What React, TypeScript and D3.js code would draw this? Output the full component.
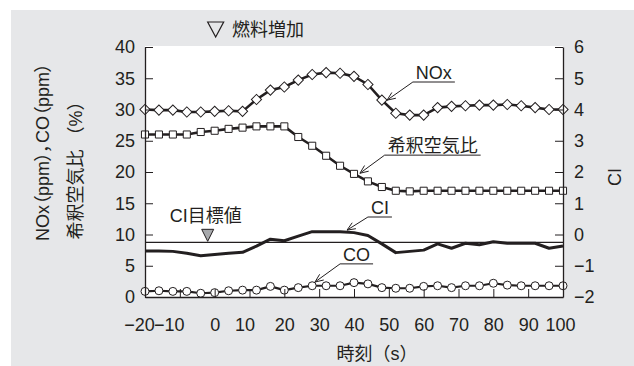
import React, { useEffect, useRef } from 'react';
import * as d3 from 'd3';

const times = [-20, -16, -12, -8, -4, 0, 4, 8, 12, 16, 20, 24, 28, 32, 36, 40, 44, 48, 52, 56, 60, 64, 68, 72, 76, 80, 84, 88, 92, 96, 100];
const noxPpm = [30.0, 29.9, 29.9, 29.6, 29.6, 29.7, 29.8, 29.7, 31.6, 33.1, 33.6, 34.7, 35.6, 35.9, 35.8, 35.3, 34.0, 31.5, 29.4, 29.1, 29.1, 30.3, 30.5, 30.6, 30.7, 30.7, 30.8, 30.6, 30.3, 30.0, 30.0];
const dilutionPct = [26.0, 26.0, 26.0, 26.0, 26.4, 26.6, 26.9, 27.1, 27.3, 27.3, 27.3, 25.6, 24.2, 22.6, 21.0, 19.7, 18.5, 17.6, 17.0, 16.9, 17.0, 17.0, 17.0, 17.0, 17.0, 17.0, 17.0, 17.0, 17.0, 17.0, 17.0];
const coPpm = [0.9, 1.0, 0.9, 0.9, 0.6, 0.7, 1.0, 1.1, 1.1, 1.7, 1.1, 1.5, 1.8, 1.8, 1.8, 2.3, 2.1, 1.5, 1.4, 1.4, 1.7, 1.8, 1.5, 1.8, 1.8, 2.2, 1.9, 1.8, 1.8, 1.8, 1.8];
const ciIndex = [-0.53, -0.53, -0.54, -0.6, -0.68, -0.64, -0.6, -0.57, -0.37, -0.15, -0.2, -0.05, 0.09, 0.09, 0.09, 0.06, -0.03, -0.3, -0.58, -0.54, -0.5, -0.3, -0.44, -0.28, -0.33, -0.23, -0.28, -0.28, -0.28, -0.44, -0.37];
const ciTarget = -0.25;
const fuelIncreaseTime = 0;
const ciTargetMarkTime = -2;

const xTicks = [-20, -10, 0, 10, 20, 30, 40, 50, 60, 70, 80, 90, 100];
const leftTicks = [0, 5, 10, 15, 20, 25, 30, 35, 40];
const rightTicks = [-2, -1, 0, 1, 2, 3, 4, 5, 6];

// callouts: arrow tip and underline start, in data units (left axis)
const callouts = [
  { label: 'NOx', tip: [49.5, 31.5], at: [56.9, 34.4] },
  { label: '希釈空気比', tip: [41.7, 19.8], at: [48.8, 22.7] },
  { label: 'CI', tip: [38.0, 10.7], at: [44.0, 12.8] },
  { label: 'CO', tip: [28.8, 2.4], at: [36.0, 5.3] },
];

const FONT = '"Liberation Sans", "Noto Sans CJK JP", sans-serif';
const INK = '#231f20';
const W = 634;
const H = 366;

const App: React.FC = () => {
  const svgRef = useRef<SVGSVGElement>(null);

  useEffect(() => {
    if (!svgRef.current) return;
    const svg = d3.select(svgRef.current);
    svg.selectAll('*').remove();

    const margin = { left: 145, right: 71, top: 47, bottom: 69 };
    const x = d3.scaleLinear().domain([-20, 100]).range([margin.left, W - margin.right]);
    const y = d3.scaleLinear().domain([0, 40]).range([H - margin.bottom, margin.top]);
    const yR = d3.scaleLinear().domain([-2, 6]).range([H - margin.bottom, margin.top]);

    svg.append('rect').attr('x', 11).attr('y', 10).attr('width', W - 11).attr('height', H - 10).attr('fill', '#e6e7e9');
    svg.append('rect')
      .attr('x', x(-20)).attr('y', margin.top - 1)
      .attr('width', x(100) - x(-20)).attr('height', y(0) - margin.top + 1)
      .attr('fill', '#fff');

    // CI target line
    svg.append('line')
      .attr('x1', x(-20)).attr('x2', x(100))
      .attr('y1', yR(ciTarget)).attr('y2', yR(ciTarget))
      .attr('stroke', INK).attr('stroke-width', 1.2);

    const tx = (i: number) => x(times[i]);

    // lines
    const addSeries = (vals: number[], scale: d3.ScaleLinear<number, number>, width: number) => {
      svg.append('path')
        .datum(vals)
        .attr('fill', 'none')
        .attr('stroke', INK)
        .attr('stroke-width', width)
        .attr('stroke-linejoin', 'round')
        .attr('d', d3.line<number>().x((_, i) => tx(i)).y(d => scale(d)));
    };
    addSeries(dilutionPct, y, 2.6);
    addSeries(noxPpm, y, 2.6);
    addSeries(coPpm, y, 2.2);
    addSeries(ciIndex, yR, 3);

    const sq = d3.symbol().type(d3.symbolSquare);
    svg.append('g').selectAll('path').data(noxPpm).join('path')
      .attr('d', sq.size(52)())
      .attr('transform', (d, i) => `translate(${tx(i)},${y(d)}) rotate(45)`)
      .attr('fill', '#fff').attr('stroke', INK).attr('stroke-width', 1);
    svg.append('g').selectAll('path').data(dilutionPct).join('path')
      .attr('d', sq.size(50)())
      .attr('transform', (d, i) => `translate(${tx(i)},${y(d)})`)
      .attr('fill', '#fff').attr('stroke', INK).attr('stroke-width', 1);
    svg.append('g').selectAll('circle').data(coPpm).join('circle')
      .attr('cx', (_, i) => tx(i)).attr('cy', d => y(d)).attr('r', 4)
      .attr('fill', '#fff').attr('stroke', INK).attr('stroke-width', 1);

    // axes
    const styleAxis = (g: d3.Selection<SVGGElement, unknown, null, undefined>) => {
      g.select('.domain').attr('stroke', INK).attr('stroke-width', 1.3);
      g.selectAll('.tick line').attr('stroke', INK).attr('stroke-width', 1);
      g.selectAll('.tick text').attr('fill', INK).style('font-size', '18px').style('font-family', FONT);
    };
    const fmt = (d: d3.NumberValue) => (+d < 0 ? '\u2212' + Math.abs(+d) : String(d));

    const gx = svg.append('g').attr('transform', `translate(0,${y(0)})`)
      .call(d3.axisBottom(x).tickValues(xTicks).tickSizeInner(-8).tickSizeOuter(0).tickPadding(21).tickFormat(fmt));
    styleAxis(gx);
    const xShift: Record<number, number> = { [-20]: -6, [-10]: -11, [10]: -5, [100]: -3 };
    gx.selectAll<SVGTextElement, number>('.tick text').attr('dx', d => xShift[d] || 0);

    const gl = svg.append('g').attr('transform', `translate(${x(-20)},0)`)
      .call(d3.axisLeft(y).tickValues(leftTicks).tickSizeInner(-8).tickSizeOuter(0).tickPadding(10));
    styleAxis(gl);

    const gr = svg.append('g').attr('transform', `translate(${x(100)},0)`)
      .call(d3.axisRight(yR).tickValues(rightTicks).tickSizeInner(-8).tickSizeOuter(0).tickPadding(11).tickFormat(fmt));
    styleAxis(gr);

    const text = (px: number, py: number, s: string, size: number, anchor = 'start') =>
      svg.append('text').attr('x', px).attr('y', py).attr('text-anchor', anchor)
        .attr('fill', INK).style('font-family', FONT).style('font-size', `${size}px`).text(s);

    // axis titles
    text(377, 360, '時刻（s）', 18, 'middle');
    text(0, 0, 'NOx（ppm），CO（ppm）', 18, 'middle')
      .attr('transform', `translate(49,152) rotate(-90)`)
      .style('font-feature-settings', '"palt"');
    text(0, 0, '希釈空気比 （%）', 18, 'middle')
      .attr('transform', `translate(82,166) rotate(-90)`);
    text(0, 0, 'CI', 18, 'middle')
      .attr('transform', `translate(621,177) rotate(-90)`);

    // fuel increase marker
    const tri = (cx: number, top: number, w: number, h: number) =>
      `M${cx - w / 2},${top}L${cx + w / 2},${top}L${cx},${top + h}Z`;
    svg.append('path').attr('d', tri(x(fuelIncreaseTime) + 1, 22, 16, 15))
      .attr('fill', 'none').attr('stroke', INK).attr('stroke-width', 1.2);
    text(232, 36, '燃料増加', 18);

    // CI target marker
    svg.append('path').attr('d', tri(x(ciTargetMarkTime), yR(ciTarget) - 13, 12, 12))
      .attr('fill', '#a7a9ac').attr('stroke', INK).attr('stroke-width', 1);
    text(x(ciTargetMarkTime) - 2, yR(ciTarget) - 20, 'CI目標値', 18, 'middle');

    // callouts
    callouts.forEach(c => {
      const sx = x(c.at[0]);
      const sy = y(c.at[1]);
      const px = x(c.tip[0]);
      const py = y(c.tip[1]);
      const t = text(sx + 3, sy - 3, c.label, 18);
      const len = (t.node() as SVGTextElement).getComputedTextLength();
      svg.append('line').attr('x1', sx).attr('x2', sx + len + 6).attr('y1', sy).attr('y2', sy)
        .attr('stroke', INK).attr('stroke-width', 1);
      svg.append('line').attr('x1', sx).attr('y1', sy).attr('x2', px).attr('y2', py)
        .attr('stroke', INK).attr('stroke-width', 1);
      const ang = Math.atan2(sy - py, sx - px);
      [-0.4, 0.4].forEach(a => {
        svg.append('line')
          .attr('x1', px).attr('y1', py)
          .attr('x2', px + 9 * Math.cos(ang + a)).attr('y2', py + 9 * Math.sin(ang + a))
          .attr('stroke', INK).attr('stroke-width', 1);
      });
    });
  }, []);

  return (
    <svg
      ref={svgRef}
      width={W}
      height={H}
      style={{ position: 'absolute', left: 0, top: 0, display: 'block', background: '#fff' }}
    />
  );
};

export default App;
